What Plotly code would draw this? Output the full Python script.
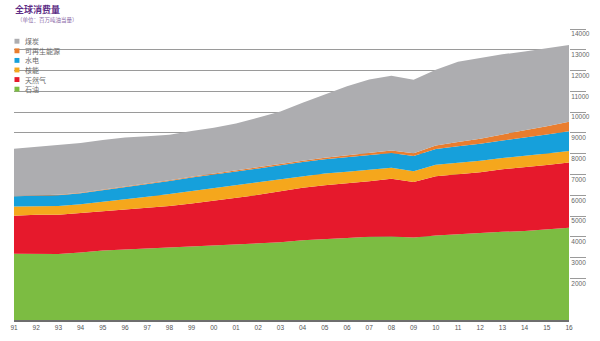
import plotly.graph_objects as go

# Years 1991-2016 and world primary energy consumption by fuel (Mtoe)
years = list(range(1991, 2017))
year_labels = ["91", "92", "93", "94", "95", "96", "97", "98", "99", "00", "01", "02", "03",
               "04", "05", "06", "07", "08", "09", "10", "11", "12", "13", "14", "15", "16"]

oil = [3190, 3200, 3180, 3250, 3340, 3390, 3440, 3480, 3550, 3600, 3620, 3670, 3740,
       3840, 3910, 3950, 4000, 4020, 3970, 4070, 4120, 4190, 4240, 4280, 4350, 4440]
gas = [1830, 1860, 1880, 1890, 1900, 1930, 1960, 2000, 2050, 2140, 2250, 2350, 2460,
       2520, 2570, 2620, 2680, 2770, 2670, 2850, 2890, 2920, 3010, 3060, 3110, 3140]
nuclear = [440, 430, 430, 430, 440, 470, 530, 580, 600, 610, 610, 610, 590,
           575, 570, 565, 550, 530, 520, 550, 560, 550, 540, 550, 555, 555]
hydro = [490, 500, 510, 530, 560, 590, 610, 630, 650, 660, 660, 660, 660,
         670, 680, 700, 710, 720, 730, 760, 790, 820, 850, 880, 910, 940]
renewables = [20, 22, 24, 26, 28, 30, 33, 36, 38, 40, 45, 50, 55,
              60, 70, 80, 95, 115, 135, 165, 200, 245, 290, 340, 400, 460]
coal = [2270, 2320, 2380, 2390, 2390, 2370, 2270, 2190, 2200, 2200, 2270, 2400, 2520,
        2790, 3050, 3330, 3540, 3590, 3530, 3650, 3860, 3890, 3850, 3810, 3730, 3690]

y_ticks = [2000, 3000, 4000, 5000, 6000, 7000, 8000, 9000, 10000, 11000, 12000, 13000, 14000]

series = [
    ("石油", oil, "#7cbc42"),
    ("天然气", gas, "#e6192c"),
    ("核能", nuclear, "#f5a71c"),
    ("水电", hydro, "#16a0db"),
    ("可再生能源", renewables, "#e97d2e"),
    ("煤炭", coal, "#adadb0"),
]

# Plot-area geometry in pixels, used to place the hand-drawn legend and titles
PLOT_L, PLOT_W = 10, 562
PLOT_T, PLOT_H = 28.5, 297.5


def px_x(x):
    return (x - PLOT_L) / PLOT_W


def px_y(y):
    return 1 - (y - PLOT_T) / PLOT_H


fig = go.Figure()
for name, vals, color in series:
    fig.add_trace(go.Scatter(
        x=years, y=vals, name=name, mode="lines",
        stackgroup="energy", line=dict(width=0, color=color),
        fillcolor=color, hoverinfo="x+y+name",
    ))

# Legend: small colour squares with labels, on a white patch over the grid
shapes = [dict(type="rect", xref="paper", yref="paper", layer="between",
               x0=px_x(0), x1=px_x(97), y0=px_y(97), y1=px_y(38),
               fillcolor="white", line=dict(width=0))]
annotations = []
legend_top = 41
for k, (name, vals, color) in enumerate(reversed(series)):
    yc = legend_top + k * 9.8
    shapes.append(dict(type="rect", xref="paper", yref="paper", layer="above",
                       x0=px_x(10.5), x1=px_x(15.5), y0=px_y(yc + 2.5), y1=px_y(yc - 2.5),
                       fillcolor=color, line=dict(width=0)))
    annotations.append(dict(xref="paper", yref="paper", x=px_x(19.5), y=px_y(yc),
                            text=name, showarrow=False, xanchor="left", yanchor="middle",
                            font=dict(size=7, color="#6b6b6b", family="Noto Sans CJK SC")))

# Chart title and unit line
annotations.append(dict(xref="paper", yref="paper", x=px_x(9), y=px_y(8.5),
                        text="<b>全球消费量</b>", showarrow=False,
                        xanchor="left", yanchor="middle",
                        font=dict(size=9, color="#5e2e86", family="Noto Sans CJK SC")))
annotations.append(dict(xref="paper", yref="paper", x=px_x(11), y=px_y(19.5),
                        text="（单位：百万吨油当量）", showarrow=False,
                        xanchor="left", yanchor="middle",
                        font=dict(size=5.5, color="#8a6aa8", family="Noto Sans CJK SC")))

fig.update_layout(
    width=600, height=341,
    margin=dict(l=PLOT_L, r=600 - PLOT_L - PLOT_W, t=PLOT_T, b=341 - PLOT_T - PLOT_H),
    paper_bgcolor="white", plot_bgcolor="white",
    showlegend=False,
    shapes=shapes,
    annotations=annotations,
    xaxis=dict(
        range=[1991, 2016], tickvals=years, ticktext=year_labels,
        showgrid=False, zeroline=False, ticks="",
        showline=True, linecolor="#6e6e6e", linewidth=2,
        tickfont=dict(size=6.5, color="#555555", family="Liberation Sans"),
    ),
    yaxis=dict(
        range=[0, 14000], side="right", tickvals=y_ticks,
        ticktext=[str(v) for v in y_ticks],
        showgrid=True, gridcolor="#9a9a9a", gridwidth=1, zeroline=False,
        ticks="outside", ticklen=16, tickcolor="#9a9a9a", tickwidth=1,
        ticklabelposition="outside bottom",
        tickfont=dict(size=6.5, color="#666666", family="Liberation Sans"),
    ),
)

fig.write_html("out.html")
